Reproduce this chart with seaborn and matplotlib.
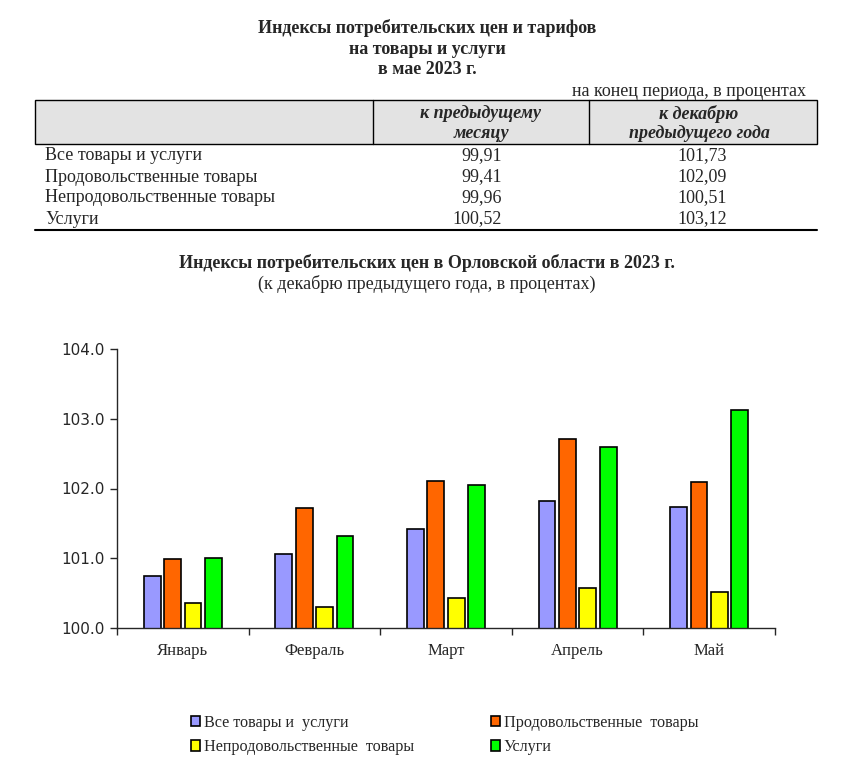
import numpy as np
import pandas as pd
import matplotlib
matplotlib.use('Agg')
import matplotlib.pyplot as plt
import seaborn as sns
from matplotlib.patches import Rectangle
from matplotlib.lines import Line2D

sns.set_style('ticks')
plt.rcParams['font.family'] = ['Liberation Serif', 'DejaVu Serif']

# таблица
table_rows = ['Все товары и услуги', 'Продовольственные товары',
              'Непродовольственные товары', 'Услуги']
to_prev_month = ['99,91', '99,41', '99,96', '100,52']
to_december = ['101,73', '102,09', '100,51', '103,12']

# диаграмма
months = ['Январь', 'Февраль', 'Март', 'Апрель', 'Май']
series = ['Все товары и  услуги', 'Продовольственные  товары',
          'Непродовольственные  товары', 'Услуги']
all_goods = [100.74, 101.06, 101.42, 101.82, 101.73]
food = [100.99, 101.72, 102.11, 102.71, 102.09]
non_food = [100.36, 100.30, 100.43, 100.57, 100.51]
services = [101.00, 101.32, 102.05, 102.60, 103.12]
colors = ['#9999FF', '#FF6600', '#FFFF00', '#00FF00']

df = pd.DataFrame({
    'month': months * 4,
    'series': np.repeat(series, len(months)),
    'value': all_goods + food + non_food + services,
})

W, H = 842, 774
fig = plt.figure(figsize=(W / 100, H / 100), dpi=100)

def fx(px):
    return px / W

def fy(py):
    return 1 - py / H

FS = 13

# заголовок таблицы
for txt, y in [('Индексы потребительских цен и тарифов', 28),
               ('на товары и услуги', 49),
               ('в мае 2023 г.', 70)]:
    fig.text(fx(427), fy(y), txt, ha='center', va='center',
             fontsize=FS, fontweight='bold')
fig.text(fx(806), fy(91), 'на конец периода, в процентах', ha='right',
         va='center', fontsize=FS)

# шапка таблицы
fig.patches.append(Rectangle((fx(35), fy(144)), fx(817) - fx(35), fy(100) - fy(144),
                             transform=fig.transFigure, facecolor='#e3e3e3',
                             edgecolor='black', linewidth=1))
for xv in [373, 589]:
    fig.lines.append(Line2D([fx(xv), fx(xv)], [fy(100), fy(144)],
                            transform=fig.transFigure, color='black', lw=1))
for txt, x, y in [('к предыдущему', 481, 114), ('месяцу', 481, 134),
                  ('к декабрю', 699, 114), ('предыдущего года', 699, 134)]:
    fig.text(fx(x), fy(y), txt, ha='center', va='center',
             fontsize=FS, fontweight='bold', style='italic')

for i, (name, a, b) in enumerate(zip(table_rows, to_prev_month, to_december)):
    y = 156 + i * 21
    fig.text(fx(45), fy(y), name, ha='left', va='center', fontsize=FS)
    fig.text(fx(502), fy(y), a, ha='right', va='center', fontsize=FS)
    fig.text(fx(727), fy(y), b, ha='right', va='center', fontsize=FS)
fig.lines.append(Line2D([fx(35), fx(817)], [fy(230), fy(230)],
                        transform=fig.transFigure, color='black', lw=1.5))

# заголовок диаграммы
fig.text(fx(427), fy(263), 'Индексы потребительских цен в Орловской области в 2023 г.',
         ha='center', va='center', fontsize=FS, fontweight='bold')
fig.text(fx(427), fy(284), '(к декабрю предыдущего года, в процентах)',
         ha='center', va='center', fontsize=FS)

ax = fig.add_axes([fx(117), fy(628), fx(775) - fx(117), fy(349) - fy(628)])
sns.barplot(data=df, x='month', y='value', hue='series', palette=colors,
            width=0.62, gap=0.17, edgecolor='black', linewidth=1.2,
            saturation=1, ax=ax, legend=True)

ax.set_ylim(100, 104)
ax.set_xlim(-0.5, len(months) - 0.5)
ax.set_yticks([100, 101, 102, 103, 104])
ax.set_yticklabels([f'{v:.1f}' for v in [100, 101, 102, 103, 104]],
                   family='DejaVu Sans', fontsize=11)
ax.tick_params(axis='y', length=5, width=1, pad=4)
ax.tick_params(axis='x', which='major', length=0, pad=11, labelsize=12)
ax.set_xticks(np.arange(-0.5, len(months), 1), minor=True)
ax.tick_params(axis='x', which='minor', length=5, width=1, direction='out')
ax.set_xlabel('')
ax.set_ylabel('')
for s in ['top', 'right']:
    ax.spines[s].set_visible(False)
for s in ['left', 'bottom']:
    ax.spines[s].set_linewidth(1)

# легенда: по строкам, как в оригинале
handles, labels = ax.get_legend_handles_labels()
order = [0, 2, 1, 3]
ax.legend([handles[i] for i in order], [labels[i] for i in order], ncol=2,
          loc='upper left', bbox_to_anchor=(0.09, -0.26),
          frameon=False, fontsize=11.6, handlelength=0.55, handleheight=0.6,
          handletextpad=0.25, columnspacing=4.8, labelspacing=0.5)

fig.savefig('out.png', dpi=100, facecolor='white')
